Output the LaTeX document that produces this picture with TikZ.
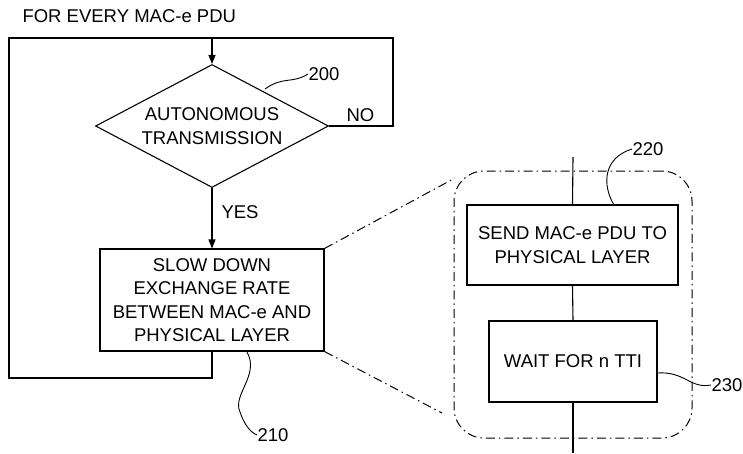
\documentclass[tikz,border=0pt]{standalone}
\usepackage{fontspec}
\setmainfont{Liberation Sans}
\usetikzlibrary{shapes.geometric,arrows.meta}
\begin{document}
\begin{tikzpicture}[x=1pt,y=-1pt,line width=1.1pt,
  every node/.style={font=\fontsize{18.5}{23.3}\selectfont},
  box/.style={draw,align=center,inner sep=0pt},
  flow/.style={-{Triangle[length=9pt,width=7pt]}},
  lead/.style={line width=0.9pt},
  dd/.style={line width=1pt,dash pattern=on 9pt off 4pt on 1.5pt off 4pt},
  lbl/.style={inner sep=0pt,anchor=west}]
\useasboundingbox (0,0) rectangle (743,453);
% title
\node[lbl] (title) at (22,16) {FOR EVERY MAC-e PDU};
% main flow
\node[draw,diamond,shape aspect=1.9,align=center,inner sep=0pt,minimum width=233pt,minimum height=123pt] (dia) at (212,126) {AUTONOMOUS\\TRANSMISSION};
\node[box,minimum width=224pt,minimum height=102pt] (slow) at (212,300) {SLOW DOWN\\EXCHANGE RATE\\BETWEEN MAC-e AND\\PHYSICAL LAYER};
\coordinate (top) at (212,38);
\coordinate (tl) at (9,38);
\coordinate (tr) at (393,38);
\coordinate (bl) at (9,378);
\draw[flow] (top) -- (dia.north);
\draw (dia.east) -| (tr) -- (tl) -- (bl) -| (slow.south);
\draw[flow] (dia.south) -- (slow.north);
\node[lbl] (no) at (346,115) {NO};
\node[lbl] (yes) at (221,212) {YES};
% detail
\node[draw,dd,rounded corners=30pt,minimum width=238pt,minimum height=267pt] (zoomr) at (573,304.5) {};
\node[box,minimum width=211pt,minimum height=80pt] (send) at (572.5,245) {SEND MAC-e PDU TO\\PHYSICAL LAYER};
\node[box,minimum width=168pt,minimum height=81pt] (wait) at (573,361.5) {WAIT FOR n TTI};
\coordinate (vtop) at (573,157);
\coordinate (vbot) at (573,453);
\draw (vtop) -- (send.north);
\draw (send.south) -- (wait.north);
\draw (wait.south) -- (vbot);
% zoom lines
\coordinate (zu) at (455,178);
\coordinate (zl) at (442,413);
\draw[dd] (slow.north east) -- (zu);
\draw[dd] (slow.south east) -- (zl);
% reference numerals
\node[lbl] (n200) at (308,74) {200};
\node[lbl] (n210) at (257,435) {210};
\node[lbl] (n220) at (632,149) {220};
\node[lbl] (n230) at (711,385) {230};
\coordinate (s200) at (265,89);
\coordinate (s210) at (247,352);
\coordinate (s220) at (614,205);
\coordinate (s230) at (657,373);
\draw[lead] (s200) .. controls (283,76) and (292,84) .. (n200.west);
\draw[lead] (s210) .. controls (260,375) and (232,395) .. (240,412) .. controls (244,424) and (250,432) .. (n210.west);
\draw[lead] (s220) .. controls (602,185) and (603,158) .. (n220.west);
\draw[lead] (s230) .. controls (685,371) and (690,389) .. (n230.west);
\end{tikzpicture}
\end{document}
